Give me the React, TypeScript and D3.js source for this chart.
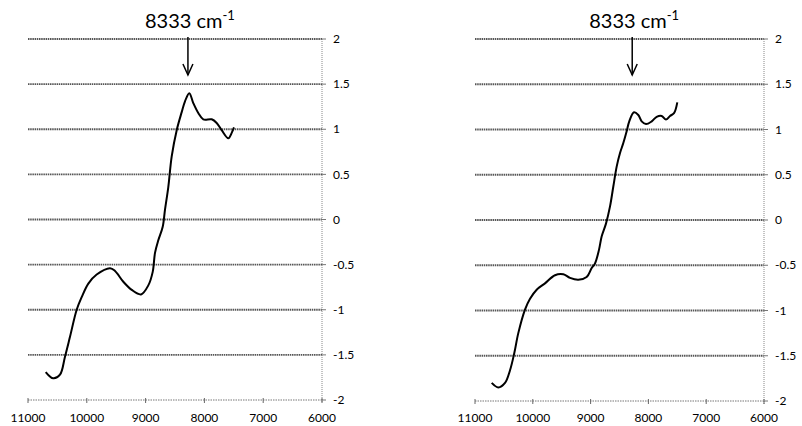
import { useRef, useEffect } from 'react';
import * as d3 from 'd3';

const WIDTH = 802;
const HEIGHT = 426;

const X_TICKS = [11000, 10000, 9000, 8000, 7000, 6000];
const Y_TICKS = [2, 1.5, 1, 0.5, 0, -0.5, -1, -1.5, -2];
const PEAK_LABEL = '8333 cm';
const PEAK_SUP = '-1';
const ARROW_WN = 8280;

const leftWavenumber = [
  10699, 10570, 10456, 10371, 10286, 10172, 10087, 9974, 9832, 9605, 9520, 9379, 9236, 9078,
  8954, 8879, 8840, 8784, 8709, 8670, 8614, 8556, 8471, 8386, 8330, 8257, 8189, 8104, 8019,
  7876, 7791, 7706, 7593, 7536, 7497,
];
const leftValue = [
  -1.69, -1.76, -1.72, -1.52, -1.3, -1.0, -0.86, -0.71, -0.61, -0.54, -0.57, -0.69, -0.78, -0.83,
  -0.73, -0.58, -0.37, -0.23, -0.08, 0.11, 0.36, 0.7, 0.99, 1.19, 1.31, 1.4, 1.29, 1.18, 1.11,
  1.11, 1.07, 0.99, 0.9, 0.96, 1.02,
];

const rightWavenumber = [
  10711, 10597, 10481, 10394, 10320, 10251, 10135, 10048, 9933, 9789, 9616, 9472, 9356, 9213,
  9068, 8981, 8924, 8855, 8808, 8734, 8664, 8607, 8549, 8491, 8434, 8376, 8331, 8249, 8175,
  8116, 8042, 7943, 7857, 7770, 7696, 7626, 7557, 7500,
];
const rightValue = [
  -1.8, -1.85, -1.8, -1.66, -1.47, -1.25, -0.99, -0.87, -0.77, -0.7, -0.61, -0.6, -0.64, -0.66,
  -0.63, -0.53, -0.48, -0.33, -0.18, -0.04, 0.15, 0.37, 0.59, 0.74, 0.85, 0.98, 1.09, 1.19, 1.16,
  1.09, 1.06, 1.09, 1.14, 1.15, 1.11, 1.15, 1.18, 1.3,
];

// plot frames of the two panels, in page pixels
const PANELS = [
  { left: 28, right: 322, top: 39, bottom: 400, wn: leftWavenumber, val: leftValue },
  { left: 475, right: 764, top: 39, bottom: 401, wn: rightWavenumber, val: rightValue },
];

export default function App() {
  const svgRef = useRef<SVGSVGElement>(null);

  useEffect(() => {
    if (!svgRef.current) return;
    const svg = d3.select(svgRef.current);
    svg.selectAll('*').remove();

    PANELS.forEach((p) => {
      const x = d3.scaleLinear().domain([11000, 6000]).range([p.left, p.right]);
      const y = d3.scaleLinear().domain([-2, 2]).range([p.bottom, p.top]);
      const g = svg.append('g');

      // horizontal gridlines (stippled look of the scan)
      g.selectAll('line.grid')
        .data(Y_TICKS.filter((t) => t > -2))
        .join('line')
        .attr('class', 'grid')
        .attr('x1', x(11000))
        .attr('x2', x(6000))
        .attr('y1', (d) => y(d))
        .attr('y2', (d) => y(d))
        .attr('stroke', '#555')
        .attr('stroke-width', 1.8)
        .attr('stroke-dasharray', '1.5 0.7');

      // right-hand value axis
      g.append('line')
        .attr('x1', x(6000))
        .attr('x2', x(6000))
        .attr('y1', y(2))
        .attr('y2', y(-2) + 3)
        .attr('stroke', '#888')
        .attr('stroke-width', 1)
        .attr('stroke-dasharray', '1 1');

      g.selectAll('line.ytick')
        .data(Y_TICKS)
        .join('line')
        .attr('class', 'ytick')
        .attr('x1', x(6000))
        .attr('x2', x(6000) + 4)
        .attr('y1', (d) => y(d))
        .attr('y2', (d) => y(d))
        .attr('stroke', '#777')
        .attr('stroke-width', 1);

      g.selectAll('text.ylab')
        .data(Y_TICKS)
        .join('text')
        .attr('class', 'ylab')
        .attr('x', x(6000) + 11)
        .attr('y', (d) => y(d))
        .attr('dy', '0.35em')
        .attr('font-family', 'Lato, "Open Sans", sans-serif')
        .attr('font-size', 12)
        .attr('fill', '#000')
        .text((d) => String(d));

      // bottom axis
      g.append('line')
        .attr('x1', x(11000))
        .attr('x2', x(6000))
        .attr('y1', y(-2))
        .attr('y2', y(-2))
        .attr('stroke', '#777')
        .attr('stroke-width', 1)
        .attr('stroke-dasharray', '1.5 1');

      g.selectAll('line.xtick')
        .data(X_TICKS)
        .join('line')
        .attr('class', 'xtick')
        .attr('x1', (d) => x(d))
        .attr('x2', (d) => x(d))
        .attr('y1', y(-2) - 2)
        .attr('y2', y(-2) + 3)
        .attr('stroke', '#666')
        .attr('stroke-width', 1);

      g.selectAll('text.xlab')
        .data(X_TICKS)
        .join('text')
        .attr('class', 'xlab')
        .attr('x', (d) => x(d))
        .attr('y', 422)
        .attr('text-anchor', 'middle')
        .attr('font-family', 'Lato, "Open Sans", sans-serif')
        .attr('font-size', 12)
        .attr('fill', '#000')
        .text((d) => String(d));

      // spectrum
      const pts = p.wn.map((w, i) => [w, p.val[i]] as [number, number]);
      const line = d3
        .line<[number, number]>()
        .x((d) => x(d[0]))
        .y((d) => y(d[1]))
        .curve(d3.curveCatmullRom.alpha(0.5));
      g.append('path')
        .attr('d', line(pts))
        .attr('fill', 'none')
        .attr('stroke', '#000')
        .attr('stroke-width', 2)
        .attr('stroke-linejoin', 'round');

      // peak annotation: label + arrow
      const ax = x(ARROW_WN);
      const label = g
        .append('text')
        .attr('x', ax + 2)
        .attr('y', 28)
        .attr('text-anchor', 'middle')
        .attr('font-family', 'Lato, "Open Sans", sans-serif')
        .attr('font-size', 20)
        .attr('fill', '#000');
      label.append('tspan').text(PEAK_LABEL);
      label.append('tspan').attr('dy', -8).attr('font-size', 13).text(PEAK_SUP);

      g.append('line')
        .attr('x1', ax)
        .attr('x2', ax)
        .attr('y1', 37)
        .attr('y2', 75)
        .attr('stroke', '#000')
        .attr('stroke-width', 1.5);
      g.append('path')
        .attr('d', `M${ax - 5},${64} L${ax},${75} L${ax + 5},${64}`)
        .attr('fill', 'none')
        .attr('stroke', '#000')
        .attr('stroke-width', 1.5);
    });
  }, []);

  return (
    <svg
      ref={svgRef}
      width={WIDTH}
      height={HEIGHT}
      viewBox={`0 0 ${WIDTH} ${HEIGHT}`}
      style={{ position: 'absolute', left: 0, top: 0, background: '#fff' }}
    />
  );
}
